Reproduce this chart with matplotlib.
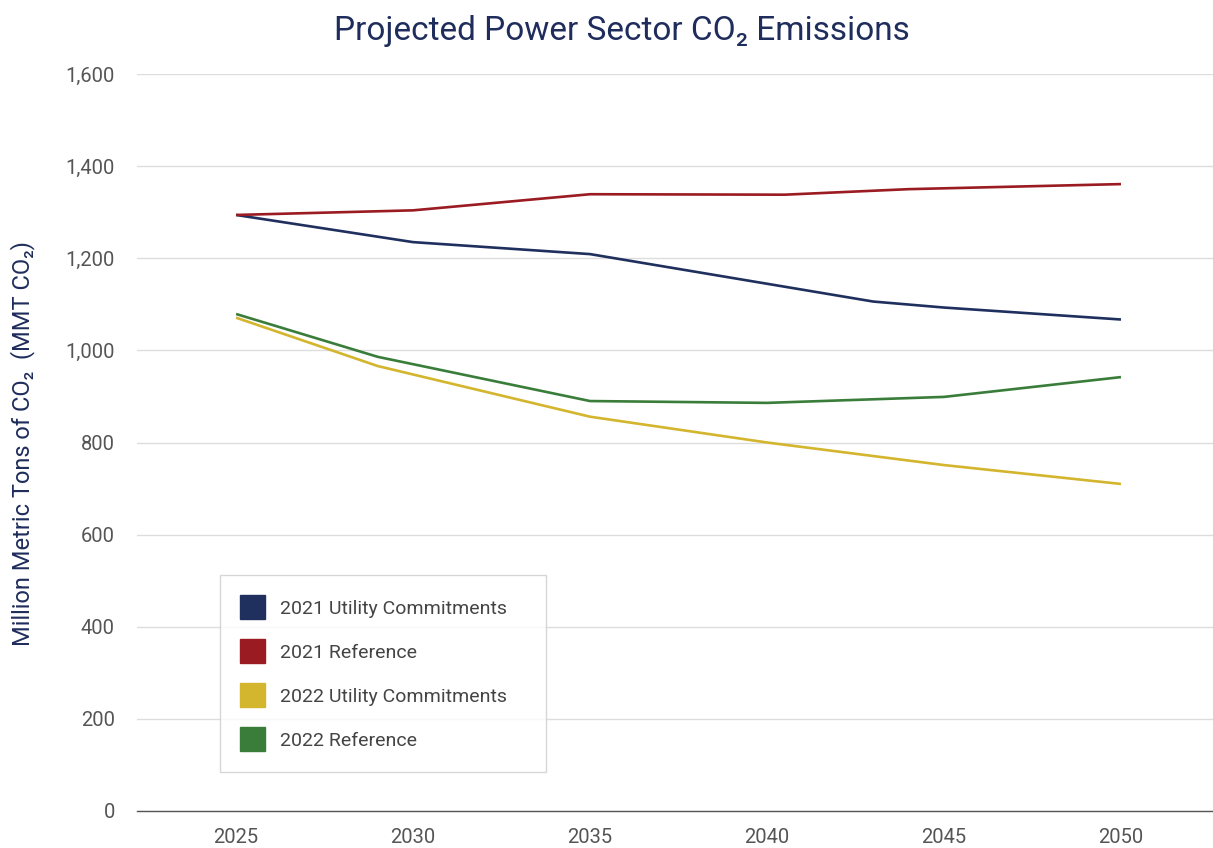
import matplotlib.pyplot as plt
from matplotlib.patches import Patch
from matplotlib.ticker import FuncFormatter

plt.rcParams['font.family'] = ['Roboto', 'DejaVu Sans']

# Projected emissions, million metric tons CO2
years_2021 = [2025, 2030, 2035, 2043, 2045, 2050]
util_2021 = [1294, 1235, 1209, 1106, 1093, 1067]

years_2021_ref = [2025, 2030, 2035, 2040.5, 2044, 2050]
ref_2021 = [1294, 1304, 1339, 1338, 1350, 1361]

years_2022 = [2025, 2029, 2035, 2040, 2045, 2050]
util_2022 = [1071, 966, 856, 800, 751, 710]
ref_2022 = [1079, 986, 890, 886, 899, 942]

labels = ["2021 Utility Commitments", "2021 Reference",
          "2022 Utility Commitments", "2022 Reference"]
colors = ["#1f2f5e", "#9b1b22", "#d4b52e", "#3a7d3a"]

NAVY = "#1f2d5c"
GRAY = "#555555"

fig = plt.figure(figsize=(12.13, 8.48), dpi=100)
ax = fig.add_axes([137 / 1213, 1 - 811 / 848, 1 - 137 / 1213, (811 - 74) / 848])

series = [(years_2021, util_2021), (years_2021_ref, ref_2021),
          (years_2022, util_2022), (years_2022, ref_2022)]
for (x, y), c in zip(series, colors):
    ax.plot(x, y, color=c, linewidth=1.9, solid_capstyle="butt", zorder=3)

ax.set_ylim(0, 1600)
ax.set_xlim(2022.2, 2052.6)
ax.set_yticks(range(0, 1601, 200))
ax.set_xticks(range(2025, 2051, 5))
ax.yaxis.set_major_formatter(FuncFormatter(lambda v, p: f"{int(v):,}"))
ax.grid(axis="y", color="#dddddd", linewidth=1)
ax.set_axisbelow(True)

for side in ("top", "right", "left"):
    ax.spines[side].set_visible(False)
ax.spines["bottom"].set_color(GRAY)
ax.spines["bottom"].set_linewidth(1)
ax.tick_params(axis="both", length=0, labelsize=14.5, labelcolor=GRAY)
ax.tick_params(axis="x", pad=12)
ax.tick_params(axis="y", pad=16)

fig.text(622 / 1213, 1 - 31 / 848, "Projected Power Sector CO₂ Emissions",
         ha="center", va="center", fontsize=24, color=NAVY)
fig.text(23 / 1213, 1 - 444 / 848, "Million Metric Tons of CO₂  (MMT CO₂)",
         ha="center", va="center", rotation=90, fontsize=17, color=NAVY)

handles = [Patch(facecolor=c, edgecolor=c) for c in colors]
leg = ax.legend(handles, labels, loc="upper left",
                bbox_to_anchor=(220 / 1213, 1 - 771 / 848, 326 / 1213, 196 / 848),
                bbox_transform=fig.transFigure, mode="expand",
                fontsize=14, frameon=True, fancybox=False,
                handlelength=1.24, handleheight=1.52, handletextpad=0.82,
                labelspacing=1.03, borderpad=1.05, borderaxespad=0)
leg.get_frame().set_edgecolor("#cccccc")
leg.get_frame().set_linewidth(1)
for t in leg.get_texts():
    t.set_color("#444444")

fig.savefig("out.png", dpi=100)
